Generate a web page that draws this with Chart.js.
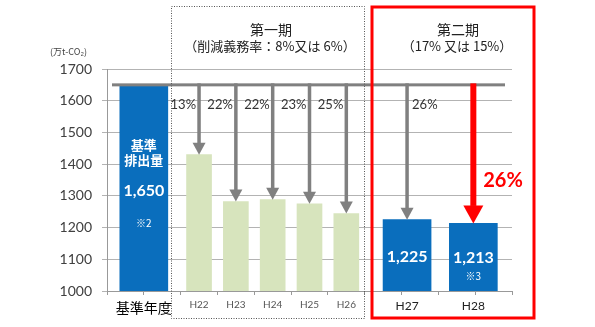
<!DOCTYPE html>
<html>
<head>
<meta charset="utf-8">
<script src="https://cdn.jsdelivr.net/npm/chart.js@4/dist/chart.umd.min.js"></script>
<style>
  html, body { margin: 0; padding: 0; background: #fff; }
</style>
</head>
<body>
<canvas id="chart" width="595" height="327"></canvas>
<script>
// 排出量データ（万t-CO2）
const categories = ["基準年度", "H22", "H23", "H24", "H25", "H26", "H27", "H28"];
const periods = ["基準", "第一期", "第一期", "第一期", "第一期", "第一期", "第二期", "第二期"];
const emissions = [1650, 1430, 1282, 1288, 1275, 1244, 1225, 1213];
const reductionRates = [0, 13, 22, 22, 23, 25, 26, 26];
// 横軸上の位置（目盛り1つ = 1）
const slotPos = [1, 2.5, 3.5, 4.5, 5.5, 6.5, 8.15, 9.95];
const yTicks = [1000, 1100, 1200, 1300, 1400, 1500, 1600, 1700];

const BLUE = "#0A6EBD";
const GREEN = "#D7E4BD";
const GRAY = "#808080";
const RED = "#FF0000";
const JP = "'Noto Sans CJK JP', sans-serif";
const NUM = "Lato, 'Noto Sans', sans-serif";

const blueBars = [];
const greenBars = [];
categories.forEach((c, i) => {
  const pt = { x: slotPos[i], y: emissions[i] };
  if (periods[i] === "第一期") greenBars.push(pt);
  else blueBars.push(pt);
});

function fmt(v) {
  return v.toLocaleString("en-US");
}

function drawArrow(ctx, x, y0, y1, stem, headW, headH, color) {
  ctx.fillStyle = color;
  ctx.fillRect(x - stem / 2, y0 - 1.5, stem, y1 - headH - y0 + 2);
  ctx.beginPath();
  ctx.moveTo(x - headW / 2, y1 - headH);
  ctx.lineTo(x + headW / 2, y1 - headH);
  ctx.lineTo(x, y1);
  ctx.closePath();
  ctx.fill();
}

const overlay = {
  id: "overlay",
  afterDatasetsDraw(chart) {
    const { ctx, scales: { x, y } } = chart;
    const lineY = y.getPixelForValue(emissions[0]);
    const last = categories.length - 1;
    ctx.save();

    // 基準排出量ライン
    ctx.fillStyle = GRAY;
    ctx.fillRect(112, lineY - 1.5, 393, 3);

    ctx.textBaseline = "middle";
    for (let i = 1; i <= last; i++) {
      const cx = x.getPixelForValue(slotPos[i]);
      const tip = y.getPixelForValue(emissions[i]);
      if (i === last) {
        drawArrow(ctx, cx, lineY, tip, 6, 20, 18, RED);
        ctx.fillStyle = RED;
        ctx.font = "bold 20px " + NUM;
        ctx.textAlign = "center";
        ctx.fillText(reductionRates[i] + "%", 503, 181);
      } else {
        drawArrow(ctx, cx, lineY, tip, 3.5, 13, 12, GRAY);
        ctx.fillStyle = "#333";
        ctx.font = "13px " + NUM;
        if (periods[i] === "第二期") {
          ctx.textAlign = "left";
          ctx.fillText(reductionRates[i] + "%", cx + 5, lineY + 20);
        } else {
          ctx.textAlign = "right";
          ctx.fillText(reductionRates[i] + "%", cx - 3, lineY + 20);
        }
      }
    }

    // 棒の中の文字
    ctx.fillStyle = "#fff";
    ctx.textAlign = "center";
    const bx = x.getPixelForValue(slotPos[0]);
    ctx.font = "bold 13px " + JP;
    ctx.fillText("基準", bx, 145);
    ctx.fillText("排出量", bx, 160);
    ctx.font = "bold 16px " + NUM;
    ctx.fillText(fmt(emissions[0]), bx, 191);
    ctx.font = "10px " + JP;
    ctx.fillText("※2", bx, 223);

    ctx.font = "bold 16px " + NUM;
    ctx.fillText(fmt(emissions[6]), x.getPixelForValue(slotPos[6]), 257);
    ctx.fillText(fmt(emissions[7]), x.getPixelForValue(slotPos[7]), 258);
    ctx.font = "10px " + JP;
    ctx.fillText("※3", x.getPixelForValue(slotPos[7]), 276);
    ctx.restore();
  },
  afterDraw(chart) {
    const { ctx } = chart;
    ctx.save();
    // 単位
    ctx.fillStyle = "#444";
    ctx.font = "9px " + JP;
    ctx.textAlign = "left";
    ctx.textBaseline = "middle";
    ctx.fillText("(万t-CO₂)", 50, 52);

    // 第一期の枠（点線）
    ctx.strokeStyle = "#555";
    ctx.lineWidth = 1;
    ctx.setLineDash([1, 1.5]);
    ctx.strokeRect(171.5, 6.5, 193, 312);
    ctx.setLineDash([]);

    // 第二期の枠
    ctx.strokeStyle = RED;
    ctx.lineWidth = 3;
    ctx.strokeRect(372, 7, 162, 311);

    ctx.fillStyle = "#222";
    ctx.textAlign = "center";
    ctx.font = "14px " + JP;
    ctx.fillText("第一期", 271, 30);
    ctx.fillText("第二期", 458, 30);
    ctx.font = "13px " + JP;
    ctx.fillText("（削減義務率：8%又は 6%）", 270, 46);
    ctx.fillText("（17% 又は 15%）", 457, 46);
    ctx.restore();
  }
};

const config = {
  type: "bar",
  data: {
    datasets: [
      {
        label: "基準・第二期",
        data: blueBars,
        backgroundColor: BLUE,
        barThickness: 48,
        grouped: false
      },
      {
        label: "第一期",
        data: greenBars,
        backgroundColor: GREEN,
        barThickness: 25,
        grouped: false
      }
    ]
  },
  options: {
    responsive: false,
    animation: false,
    layout: { padding: { top: 69, right: 83, left: 0, bottom: 0 } },
    plugins: {
      legend: { display: false },
      tooltip: { enabled: false }
    },
    scales: {
      x: {
        type: "linear",
        min: 0,
        max: 11,
        offset: false,
        afterBuildTicks(scale) {
          const ticks = [];
          for (let v = 0; v <= 11; v++) ticks.push({ value: v });
          slotPos.forEach((p, i) => ticks.push({ value: p, cat: i }));
          scale.ticks = ticks;
        },
        afterFit(scale) {
          scale.height = 36;
        },
        grid: {
          offset: false,
          drawOnChartArea: false,
          tickLength: 4,
          tickColor: (ctx) => (ctx.tick && ctx.tick.cat == null ? "#999" : "rgba(0,0,0,0)")
        },
        border: { display: true, color: "#999" },
        ticks: {
          autoSkip: false,
          maxRotation: 0,
          padding: 4,
          callback: (value, index, ticks) => {
            const t = ticks[index];
            return t && t.cat != null ? categories[t.cat] : "";
          },
          color: (ctx) => {
            const c = ctx.tick ? ctx.tick.cat : null;
            return c === 0 ? "#000" : periods[c] === "第二期" ? "#222" : "#555";
          },
          font: (ctx) => {
            const c = ctx.tick ? ctx.tick.cat : null;
            if (c === 0) return { family: JP, size: 14 };
            if (periods[c] === "第二期") return { family: NUM, size: 12 };
            return { family: NUM, size: 10 };
          }
        }
      },
      y: {
        min: 1000,
        max: 1700,
        afterBuildTicks(scale) {
          scale.ticks = yTicks.map((v) => ({ value: v }));
        },
        afterFit(scale) {
          scale.width = 107;
        },
        grid: { color: "#B3B3B3", tickLength: 5, lineWidth: 1 },
        border: { display: true, color: "#999" },
        ticks: {
          padding: 10,
          color: "#404040",
          font: { family: NUM, size: 14 },
          callback: (value) => String(value)
        }
      }
    }
  },
  plugins: [overlay]
};

new Chart(document.getElementById("chart").getContext("2d"), config);
</script>
</body>
</html>
